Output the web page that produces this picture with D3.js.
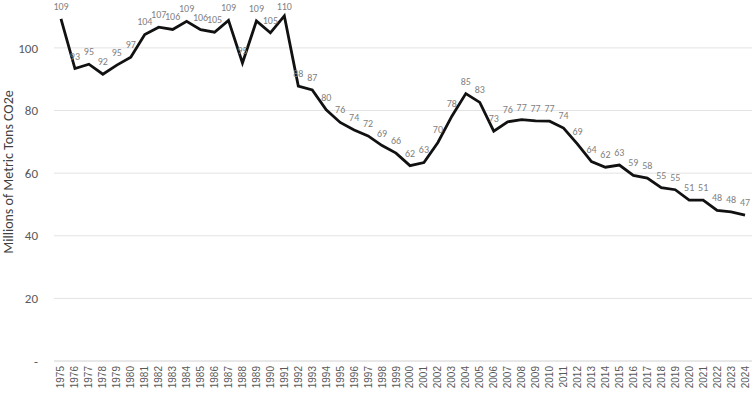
<!DOCTYPE html>
<html>
<head>
<meta charset="utf-8">
<script src="https://cdn.jsdelivr.net/npm/d3@7"></script>
<style>
  body { margin: 0; background: #fff; }
  text { font-family: Carlito, Calibri, "Liberation Sans", Arial, sans-serif; }
</style>
</head>
<body>
<svg id="chart"></svg>
<script>
// years and emissions (millions of metric tons CO2e)
const years = d3.range(1975, 2025).map(String);
const values = [109.3, 93.4, 94.8, 91.6, 94.5, 97.0, 104.3, 106.6, 105.9, 108.5,
  105.8, 105.0, 108.8, 95.2, 108.6, 104.8, 110.2, 87.8, 86.6, 80.2,
  76.2, 73.8, 71.9, 68.8, 66.4, 62.4, 63.4, 69.8, 78.2, 85.4,
  82.6, 73.4, 76.4, 77.1, 76.7, 76.6, 74.4, 69.3, 63.7, 61.9,
  62.6, 59.3, 58.4, 55.4, 54.7, 51.4, 51.4, 48.1, 47.6, 46.6];
const yTicks = [0, 20, 40, 60, 80, 100];

const W = 753, H = 394;
const margin = { top: 0, right: 1, bottom: 33, left: 54 };
const width = W - margin.left - margin.right,
  height = H - margin.top - margin.bottom;

const svg = d3.select("#chart").attr("width", W).attr("height", H);
const g = svg.append("g").attr("transform", "translate(" + margin.left + "," + margin.top + ")");

const x = d3.scaleBand().domain(years).range([0, width]);
const y = d3.scaleLinear().domain([0, 115.3]).range([height, 0]);

// gridlines
g.append("g")
  .selectAll("line")
  .data(yTicks)
  .enter().append("line")
  .attr("x1", 0).attr("x2", width)
  .attr("y1", d => y(d)).attr("y2", d => y(d))
  .attr("stroke", d => d === 0 ? "#d0d0d0" : "#e3e3e3")
  .attr("stroke-width", 1);

// y axis
const yAxis = g.append("g")
  .call(d3.axisLeft(y).tickValues(yTicks).tickSize(0).tickPadding(16)
    .tickFormat(d => d === 0 ? "-" : d));
yAxis.select(".domain").remove();
yAxis.selectAll("text").attr("fill", "#595959").style("font-size", "13px");

// x axis
const xAxis = g.append("g")
  .attr("transform", "translate(0," + height + ")")
  .call(d3.axisBottom(x).tickSize(0));
xAxis.select(".domain").remove();
xAxis.selectAll("text")
  .attr("fill", "#595959")
  .style("font-family", "'Liberation Sans', Arial, sans-serif")
  .style("font-size", "10px")
  .attr("transform", "rotate(-90)")
  .attr("text-anchor", "end")
  .attr("x", -5)
  .attr("y", 0)
  .attr("dy", "0.35em");

// axis title
svg.append("text")
  .attr("transform", "translate(13,172) rotate(-90)")
  .attr("text-anchor", "middle")
  .attr("fill", "#404040")
  .style("font-size", "14px")
  .text("Millions of Metric Tons CO2e");

const cx = d => x(d) + x.bandwidth() / 2;

const line = d3.line()
  .x((d, i) => cx(years[i]))
  .y(d => y(d));

g.append("path")
  .datum(values)
  .attr("fill", "none")
  .attr("stroke", "#111")
  .attr("stroke-width", 2.8)
  .attr("stroke-linejoin", "miter")
  .attr("d", line);

// data labels
g.append("g")
  .selectAll("text")
  .data(values)
  .enter().append("text")
  .attr("x", (d, i) => cx(years[i]))
  .attr("y", d => Math.max(y(d) - 9, 10))
  .attr("text-anchor", "middle")
  .attr("fill", "#7f7f7f")
  .style("font-size", "10px")
  .text(d => Math.round(d));
</script>
</body>
</html>
